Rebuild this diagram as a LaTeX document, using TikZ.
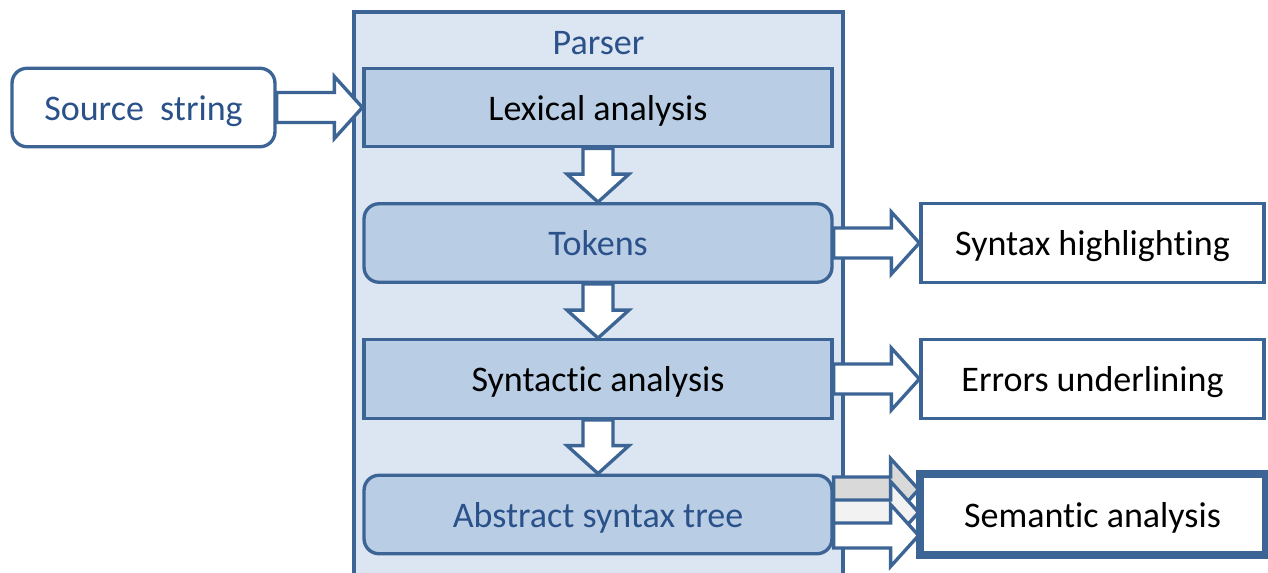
\documentclass[tikz,border=0pt]{standalone}
\usepackage{fontspec}
\setmainfont[Ligatures={NoCommon,NoContextual},RawFeature={-liga;-clig;-calt}]{Carlito}
\usetikzlibrary{calc}

\definecolor{lineblue}{HTML}{3C6494}
\definecolor{textblue}{HTML}{2A5189}
\definecolor{parserfill}{HTML}{DCE6F2}
\definecolor{stagefill}{HTML}{B9CDE5}
\definecolor{arrowgray}{HTML}{D9D9D9}
\definecolor{arrowlight}{HTML}{F2F2F2}

\tikzset{
  label text/.style={text height=16pt, text depth=1.6pt},
  stage/.style={draw=lineblue, line width=1.9pt, fill=stagefill, minimum width=9.36cm, minimum height=1.57cm, label text},
  data/.style={stage, rounded corners=0.3cm, text=textblue},
  output/.style={draw=lineblue, line width=1.9pt, fill=white, minimum width=6.86cm, minimum height=1.57cm, label text},
  blockarrow/.style={draw=lineblue, line width=1.9pt, line join=miter},
}

% half width of shaft and head, length of head (in px)
\def\shaft{15}
\def\headw{31}
\def\headl{28}

% block arrow to the right: [fill]{from}{to}{shift}
\newcommand\rightblock[4][white]{
 \draw[blockarrow, fill=#1]
   ($(#2.east)+(0,#4-\shaft)$) -- ($(#3.west |- #2.east)+(-\headl,#4-\shaft)$)
   -- ($(#3.west |- #2.east)+(-\headl,#4-\headw)$) -- ($(#3.west |- #2.east)+(0,#4)$)
   -- ($(#3.west |- #2.east)+(-\headl,#4+\headw)$) -- ($(#3.west |- #2.east)+(-\headl,#4+\shaft)$)
   -- ($(#2.east)+(0,#4+\shaft)$) -- cycle;
}
% block arrow downwards: {from}{to}
\newcommand\downblock[2]{
 \draw[blockarrow, fill=white]
   ($(#1.south)+(-\shaft,0)$) -- ($(#2.north)+(-\shaft,-\headl)$)
   -- ($(#2.north)+(-\headw,-\headl)$) -- (#2.north)
   -- ($(#2.north)+(\headw,-\headl)$) -- ($(#2.north)+(\shaft,-\headl)$)
   -- ($(#1.south)+(\shaft,0)$) -- cycle;
}

\begin{document}
\begin{tikzpicture}[x=0.02cm, y=-0.02cm, font=\fontsize{20.5}{24}\selectfont]

 \useasboundingbox (0,0) rectangle (1268,573);
 \clip (0,0) rectangle (1268,573);

 % parser frame
 \draw[draw=lineblue, line width=1.9pt, fill=parserfill] (354,12) rectangle (843,620);
 \node[text=textblue, label text] (title) at (598.5,42) {Parser};

 % stages inside the parser
 \node[stage] (lex) at (598,107.5) {Lexical analysis};
 \node[data] (tok) at (598,243) {Tokens};
 \node[stage] (syn) at (598,379) {Syntactic analysis};
 \node[data] (ast) at (598,514.5) {Abstract syntax tree};

 % input and outputs
 \node[output, rounded corners=0.3cm, minimum width=5.26cm, text=textblue] (src) at (143.5,107.5) {Source\ \ string};
 \node[output] (hl) at (1092.5,243) {Syntax highlighting};
 \node[output] (err) at (1092.5,379) {Errors underlining};
 \node[output, line width=2.8pt] (sem) at (1092.5,514.5) {Semantic analysis};

 \rightblock{src}{lex}{0}
 \downblock{lex}{tok}
 \downblock{tok}{syn}
 \downblock{syn}{ast}
 \rightblock{tok}{hl}{0}
 \rightblock{syn}{err}{0}

 % three stacked arrows to the semantic analysis
 \def\shaft{12.5}
 \rightblock[arrowgray]{ast}{sem}{-25}
 \rightblock[arrowlight]{ast}{sem}{-2}
 \rightblock{ast}{sem}{21}
 \draw[draw=lineblue, line width=2.8pt] (sem.north west) rectangle (sem.south east);

\end{tikzpicture}
\end{document}
